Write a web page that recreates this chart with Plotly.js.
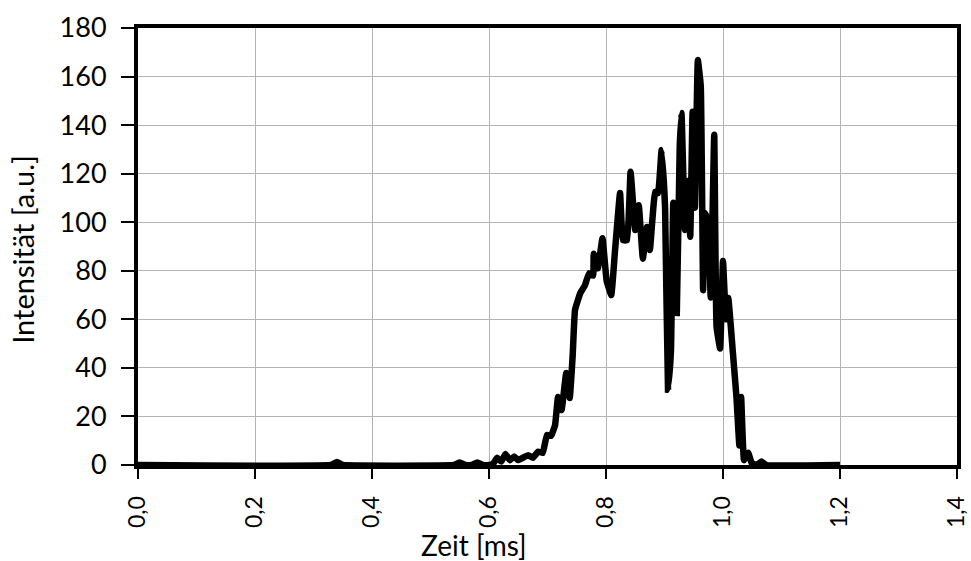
<!DOCTYPE html>
<html>
<head>
<meta charset="utf-8">
<script src="https://cdn.plot.ly/plotly-3.0.1.min.js"></script>
<style>html,body{margin:0;padding:0;background:#fff;}#chart{width:971px;height:561px;}</style>
</head>
<body>
<div id="chart"></div>
<script>
// Zeit [ms]
const zeit = [0.0, 0.33, 0.34, 0.35, 0.54, 0.55, 0.56, 0.57, 0.58, 0.59, 0.60, 0.607, 0.614, 0.621, 0.628, 0.636, 0.643, 0.650, 0.658, 0.667, 0.675, 0.684, 0.692,
  0.699, 0.706, 0.713, 0.718, 0.724, 0.732, 0.738, 0.743, 0.747, 0.756, 0.764, 0.771, 0.778, 0.779, 0.786, 0.794, 0.801, 0.809, 0.815, 0.824, 0.829, 0.836,
  0.842, 0.850, 0.856, 0.863, 0.870, 0.875, 0.884, 0.889, 0.895, 0.901, 0.906, 0.911, 0.915, 0.921, 0.926, 0.929, 0.935, 0.940, 0.944, 0.948, 0.952, 0.957,
  0.962, 0.966, 0.969, 0.974, 0.979, 0.985, 0.989, 0.995, 1.000, 1.005, 1.009, 1.017, 1.023, 1.028, 1.031, 1.036, 1.043, 1.049, 1.058, 1.066, 1.074, 1.20];
// Intensität [a.u.]
const intensitaet = [0, 0, 1.2, 0, 0, 1.0, 0, 0, 1.0, 0, 0, 0.5, 3.0, 1.4, 4.5, 2.0, 3.5, 2.0, 3.0, 4.0, 3.0, 5.5, 5.0,
  12.4, 12.0, 16.5, 28, 22.6, 37.9, 27.6, 45, 63.8, 70.8, 74, 79, 78, 87, 81, 93.4, 76, 70, 87, 112, 92.6, 92.6,
  120.8, 96.8, 107, 85, 98, 88.6, 112.5, 112, 129.7, 106, 31, 47, 108, 62.6, 131, 145, 96.8, 117, 94, 145.5, 106, 166.8,
  156, 72, 103.8, 101, 69, 136, 57, 48, 84, 60, 68.8, 46, 28, 8, 28, 2, 5, 0.8, 0, 1.4, 0, 0];

const xTicks = [0, 0.2, 0.4, 0.6, 0.8, 1.0, 1.2, 1.4];
const yTicks = [0, 20, 40, 60, 80, 100, 120, 140, 160, 180];
const xTitle = 'Zeit [ms]';
const yTitle = 'Intensität [a.u.]';

const fontFam = 'Lato, "Open Sans", sans-serif';

const trace = {
  x: zeit, y: intensitaet, type: 'scatter', mode: 'lines',
  line: {color: '#000000', width: 6.5, shape: 'spline', smoothing: 0.3},
  hoverinfo: 'skip'
};

const layout = {
  width: 971, height: 561,
  margin: {l: 138, r: 14, t: 28, b: 96},
  paper_bgcolor: '#ffffff', plot_bgcolor: '#ffffff',
  separators: ',.',
  showlegend: false,
  font: {family: fontFam, color: '#000000', size: 24},
  xaxis: {
    range: [0, 1.4], tickmode: 'array', tickvals: xTicks, tickformat: '.1f',
    tickangle: -90, ticks: 'outside', ticklen: 10, tickwidth: 2, tickcolor: '#000',
    ticklabelstandoff: 8, ticklabeloverflow: 'allow',
    showgrid: true, gridcolor: '#b4b4b4', gridwidth: 1,
    showline: true, linecolor: '#000', linewidth: 4, mirror: true,
    zeroline: false, tickfont: {size: 23, family: fontFam}
  },
  yaxis: {
    range: [0, 180], tickmode: 'array', tickvals: yTicks,
    ticks: 'outside', ticklen: 13, tickwidth: 2, tickcolor: '#000',
    showgrid: true, gridcolor: '#b4b4b4', gridwidth: 1,
    showline: true, linecolor: '#000', linewidth: 4, mirror: true,
    zeroline: false, tickfont: {size: 27, family: fontFam},
    ticklabelstandoff: 9
  },
  annotations: [
    {text: xTitle, xref: 'paper', yref: 'paper', x: 0.410, y: -0.182,
     xanchor: 'center', yanchor: 'middle', showarrow: false, font: {size: 28, family: fontFam}},
    {text: yTitle, xref: 'paper', yref: 'paper', x: -0.142, y: 0.494, textangle: -90,
     xanchor: 'center', yanchor: 'middle', showarrow: false, font: {size: 29, family: fontFam}}
  ]
};

Plotly.newPlot('chart', [trace], layout, {staticPlot: true, displayModeBar: false});
</script>
</body>
</html>
